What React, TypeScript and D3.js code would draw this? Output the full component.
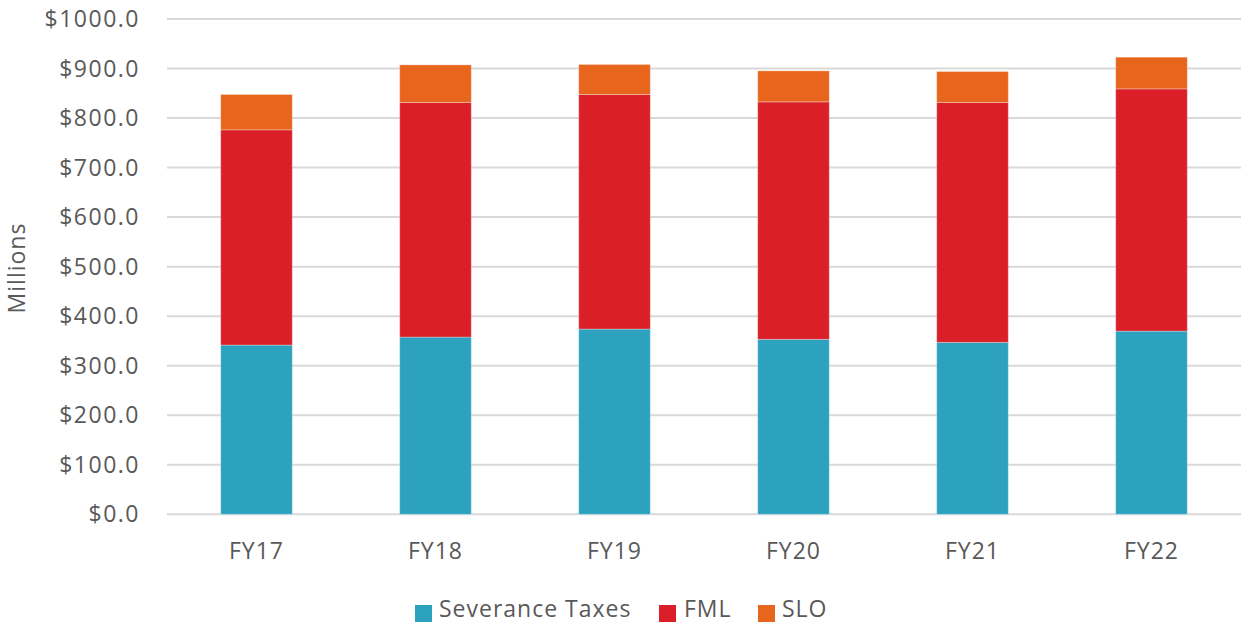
import React from "react";
import * as d3 from "d3";

const categories = ["FY17", "FY18", "FY19", "FY20", "FY21", "FY22"];
const severanceTaxes = [341.7, 357.8, 374.0, 353.2, 347.1, 369.9];
const fml = [434.5, 473.7, 473.6, 479.5, 484.4, 489.0];
const slo = [71.4, 75.9, 60.6, 62.6, 62.5, 64.0];
const seriesNames = ["Severance Taxes", "FML", "SLO"];
const seriesColors = ["#2CA2BF", "#DA1F29", "#E8651E"];
const yTicks = [0, 100, 200, 300, 400, 500, 600, 700, 800, 900, 1000];

const W = 1243;
const H = 623;
const FONT = "'Open Sans', sans-serif";
const TEXT = "#595959";

export default function App() {
  const left = 167;
  const right = 1241;
  const top = 19;
  const bottom = 514.3;

  const x = d3.scaleBand<string>().domain(categories).range([left, right]).paddingInner(0.6).paddingOuter(0.3);
  const y = d3.scaleLinear().domain([0, 1000]).range([bottom, top]);

  const rows = categories.map((c, i) => ({
    cat: c,
    "Severance Taxes": severanceTaxes[i],
    FML: fml[i],
    SLO: slo[i],
  }));
  const stacked = d3.stack<any>().keys(seriesNames)(rows);

  const legendItems = [
    { x: 415, tx: 439 },
    { x: 659, tx: 684 },
    { x: 758, tx: 782 },
  ];

  return (
    <svg width={W} height={H} style={{ position: "absolute", left: 0, top: 0 }}>
      <rect width={W} height={H} fill="#fff" />
      {yTicks.map((t) => (
        <g key={t}>
          <line x1={left} x2={right} y1={y(t)} y2={y(t)} stroke="#D9D9D9" strokeWidth={2} />
          <text
            x={140}
            y={y(t)}
            dy="0.35em"
            textAnchor="end"
            fontFamily={FONT}
            fontSize={23}
            letterSpacing={1.5}
            fill={TEXT}
          >
            {"$" + d3.format(".1f")(t)}
          </text>
        </g>
      ))}
      {stacked.map((s, si) => (
        <g key={s.key} fill={seriesColors[si]}>
          {s.map((d, i) => (
            <rect
              key={i}
              x={x(categories[i])}
              width={x.bandwidth()}
              y={y(d[1])}
              height={y(d[0]) - y(d[1])}
              stroke="#ffffff"
              strokeOpacity={0.3}
              strokeWidth={1}
            />
          ))}
        </g>
      ))}
      {categories.map((c) => (
        <text
          key={c}
          x={(x(c) as number) + x.bandwidth() / 2}
          y={559}
          textAnchor="middle"
          fontFamily={FONT}
          fontSize={23}
          letterSpacing={1}
          fill={TEXT}
        >
          {c}
        </text>
      ))}
      <text
        transform="translate(25,268) rotate(-90)"
        textAnchor="middle"
        fontFamily={FONT}
        fontSize={23}
        letterSpacing={1}
        fill={TEXT}
      >
        Millions
      </text>
      {seriesNames.map((n, i) => (
        <g key={n}>
          <rect x={legendItems[i].x} y={605} width={17} height={17} fill={seriesColors[i]} />
          <text x={legendItems[i].tx} y={617} fontFamily={FONT} fontSize={23} letterSpacing={1} fill={TEXT}>
            {n}
          </text>
        </g>
      ))}
    </svg>
  );
}
